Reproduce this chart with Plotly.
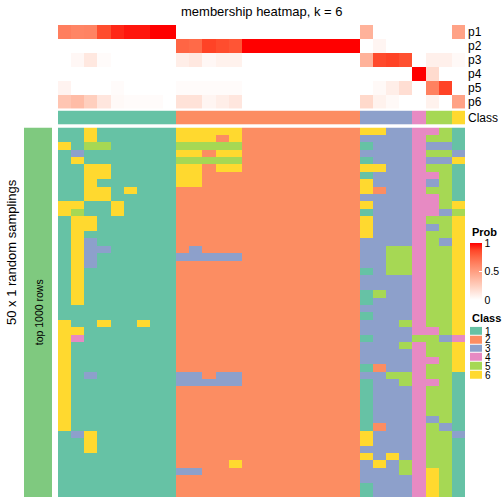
import plotly.graph_objects as go

# ---------------- data ----------------
class_names = ["1", "2", "3", "4", "5", "6"]
class_colors = ["#66C2A5", "#FC8D62", "#8DA0CB", "#E78AC3", "#A6D854", "#FFD92F"]
prob_labels = ["p1", "p2", "p3", "p4", "p5", "p6"]

p1 = [0.65, 0.62, 0.63, 0.85, 0.93, 0.96, 0.96, 1.0, 1.0] + [0] * 14 + [0.40, 0, 0, 0, 0, 0, 0, 0.48]
p2 = [0] * 9 + [0.76, 0.74, 0.88, 0.85, 0.82] + [1.0] * 9 + [0, 0.05, 0, 0, 0, 0, 0, 0]
p3 = [0, 0.04, 0.12, 0.02, 0, 0, 0, 0, 0] + [0.09, 0.12, 0.04, 0.07, 0.07] + [0] * 9 + [0.40, 0.86, 0.88, 0.84, 0, 0.08, 0.08, 0.03]
p4 = [0] * 23 + [0, 0, 0, 0, 1.0, 0.19, 0, 0]
p5 = [0.06, 0, 0, 0, 0.02, 0, 0, 0, 0] + [0.02] * 5 + [0] * 9 + [0, 0.03, 0.09, 0.17, 0, 0.64, 0.88, 0]
p6 = [0.30, 0.35, 0.25, 0.13, 0.03, 0.02, 0.02, 0.02, 0] + [0.15, 0.15, 0.05, 0.09, 0.13] + [0] * 9 + [0.20, 0.07, 0.03, 0, 0, 0.07, 0, 0.48]

column_class = [1] * 9 + [2] * 14 + [3] * 4 + [4] + [5] * 2 + [6]

samplings = [
    "116111111" + "66666222222222" + "66334451",
    "116111111" + "66626222222222" + "33334551",
    "615511111" + "55555222222222" + "13334331",
    "131111111" + "66266222222222" + "33334553",
    "161111111" + "55555222222222" + "13334336",
    "116611111" + "66266222222222" + "66334551",
    "116611111" + "66222222222222" + "13334451",
    "116111111" + "66222222222222" + "63334351",
    "116616111" + "22222222222222" + "62334551",
    "116611111" + "22222222222222" + "33334451",
    "661161111" + "22222222222222" + "63334456",
    "651161111" + "22222222222222" + "13334435",
    "166111111" + "22222222222222" + "63334556",
    "166111111" + "22222222222222" + "63334356",
    "161111111" + "22222222222222" + "63334556",
    "163111111" + "22222222222222" + "33334536",
    "163311111" + "23222222222222" + "33554556",
    "163111111" + "33333222222222" + "33554556",
    "163111111" + "22222222222222" + "33554556",
    "161111111" + "22222222222222" + "13554556",
    "161111111" + "22222222222222" + "33334556",
    "161111111" + "22222222222222" + "33334556",
    "161111111" + "22222222222222" + "15334556",
    "161111111" + "22222222222222" + "13334556",
    "111111111" + "22222222222222" + "33334556",
    "111111111" + "22222222222222" + "13334556",
    "611611611" + "22222222222222" + "33354556",
    "661111111" + "22222222222222" + "33334456",
    "641111111" + "22222222222222" + "13335534",
    "611111111" + "22222222222222" + "33354556",
    "611111111" + "22222222222222" + "33334556",
    "611111111" + "22222222222222" + "33334456",
    "611111111" + "22222222222222" + "12334556",
    "613111111" + "33233222222222" + "33554551",
    "611111111" + "33333222222222" + "13354451",
    "611111111" + "22222222222222" + "13334551",
    "611111111" + "22222222222222" + "13334551",
    "611111111" + "22222222222222" + "13334551",
    "611111111" + "22222222222222" + "13334551",
    "611111111" + "22222222222222" + "13334351",
    "611111111" + "22222222222222" + "12334531",
    "136111111" + "22222222222222" + "63334553",
    "116111111" + "22222222222222" + "63334551",
    "116111111" + "22222222222222" + "33334551",
    "111111111" + "22222222222222" + "63634551",
    "111111111" + "22226222222222" + "36354551",
    "111111111" + "33222222222222" + "33354651",
    "111111111" + "22222222222222" + "33334651",
    "111111111" + "22222222222222" + "13334651",
    "111111111" + "22222222222222" + "13334651",
]

# ---------------- helpers ----------------
W = H = 504
FONT = "Liberation Sans, Arial, sans-serif"


def px_x(v):
    return v / W


def px_y(v):
    return 1 - v / H


prob_scale = [
    [0.0, "#FFFFFF"], [0.125, "#FFE7DF"], [0.25, "#FFCFBE"], [0.375, "#FFB7A0"],
    [0.5, "#FF9E81"], [0.625, "#FF8464"], [0.75, "#FF6846"], [0.875, "#FF4628"],
    [1.0, "#FF0000"],
]

n = len(class_colors)
class_scale = []
for i, c in enumerate(class_colors):
    class_scale.append([i / n, c])
    class_scale.append([(i + 1) / n, c])

ncol = len(column_class)
cols = list(range(ncol))
prob_z = [p1, p2, p3, p4, p5, p6]
samp_z = [[int(ch) for ch in row] for row in samplings]

fig = go.Figure()

# probability heatmap
fig.add_trace(go.Heatmap(
    z=prob_z, x=cols, y=list(range(6)), xaxis="x", yaxis="y",
    colorscale=prob_scale, zmin=0, zmax=1, hoverinfo="skip",
    colorbar=dict(
        x=px_x(470), xanchor="left", xpad=0,
        y=px_y(243), yanchor="top", ypad=0,
        len=57, lenmode="pixels", thickness=12, outlinewidth=0,
        tickvals=[0, 0.5, 1], ticktext=["0", "0.5", "1"],
        ticks="inside", ticklen=3, tickcolor="white",
        tickfont=dict(size=10.5, family=FONT, color="#000000"),
    ),
))

# class row
fig.add_trace(go.Heatmap(
    z=[column_class], x=cols, y=[0], xaxis="x", yaxis="y2",
    colorscale=class_scale, zmin=0.5, zmax=n + 0.5, showscale=False, hoverinfo="skip",
))

# sampling heatmap
fig.add_trace(go.Heatmap(
    z=samp_z, x=cols, y=list(range(len(samplings))), xaxis="x", yaxis="y3",
    colorscale=class_scale, zmin=0.5, zmax=n + 0.5, showscale=False, hoverinfo="skip",
))

# class legend
fig.add_trace(go.Heatmap(
    z=[[i + 1] for i in range(n)], x=[0], y=list(range(n)), xaxis="x2", yaxis="y4",
    colorscale=class_scale, zmin=0.5, zmax=n + 0.5, showscale=False, hoverinfo="skip",
    ygap=1,
))

# left row-group bar
fig.add_trace(go.Heatmap(
    z=[[1]], x=[0], y=[0], xaxis="x3", yaxis="y5",
    colorscale=[[0, "#7FC97F"], [1, "#7FC97F"]], showscale=False, hoverinfo="skip",
))

hidden = dict(showgrid=False, zeroline=False, showline=False, showticklabels=False, ticks="")

fig.update_layout(
    width=W, height=H, margin=dict(l=0, r=0, t=0, b=0),
    paper_bgcolor="white", plot_bgcolor="white",
    font=dict(family=FONT, color="#000000"),
    xaxis=dict(domain=[px_x(58), px_x(465)], range=[-0.5, ncol - 0.5], anchor="y3", **hidden),
    yaxis=dict(domain=[px_y(108), px_y(24)], range=[5.5, -0.5], anchor="x", side="right",
               showgrid=False, zeroline=False, showline=False, ticks="",
               tickvals=list(range(6)), ticktext=prob_labels, ticklabelstandoff=2,
               tickfont=dict(size=12, family=FONT)),
    yaxis2=dict(domain=[px_y(124), px_y(110)], range=[0.5, -0.5], anchor="x", side="right",
                showgrid=False, zeroline=False, showline=False, ticks="",
                tickvals=[0], ticktext=["Class"], ticklabelstandoff=2,
                tickfont=dict(size=12, family=FONT)),
    yaxis3=dict(domain=[px_y(498), px_y(127)], range=[len(samplings) - 0.5, -0.5], anchor="x", **hidden),
    xaxis2=dict(domain=[px_x(470), px_x(482)], range=[-0.5, 0.5], anchor="y4", **hidden),
    yaxis4=dict(domain=[px_y(380), px_y(327)], range=[n - 0.5, -0.5], anchor="x2", side="right",
                showgrid=False, zeroline=False, showline=False, ticks="",
                tickvals=list(range(n)), ticktext=class_names, ticklabelstandoff=2,
                tickfont=dict(size=10, family=FONT)),
    xaxis3=dict(domain=[px_x(24), px_x(52)], range=[-0.5, 0.5], anchor="y5", **hidden),
    yaxis5=dict(domain=[px_y(498), px_y(127)], range=[0.5, -0.5], anchor="x3", **hidden),
    annotations=[
        dict(text="membership heatmap, k = 6", x=px_x(262), y=px_y(11), xref="paper", yref="paper",
             showarrow=False, font=dict(size=13, family=FONT), xanchor="center", yanchor="middle"),
        dict(text="top 1000 rows", x=px_x(38.5), y=px_y(313), xref="paper", yref="paper",
             showarrow=False, textangle=-90, font=dict(size=10.5, family=FONT),
             xanchor="center", yanchor="middle"),
        dict(text="50 x 1 random samplings", x=px_x(11), y=px_y(252), xref="paper", yref="paper",
             showarrow=False, textangle=-90, font=dict(size=13, family=FONT),
             xanchor="center", yanchor="middle"),
        dict(text="<b>Prob</b>", x=px_x(470), y=px_y(232), xref="paper", yref="paper",
             showarrow=False, font=dict(size=11, family=FONT), xanchor="left", yanchor="middle"),
        dict(text="<b>Class</b>", x=px_x(470), y=px_y(318), xref="paper", yref="paper",
             showarrow=False, font=dict(size=11, family=FONT), xanchor="left", yanchor="middle"),
    ],
)

fig.write_html(
    "out.html",
    config={"displayModeBar": False},
    post_script="document.body.style.margin='0';document.body.style.padding='0';"
                "document.documentElement.style.overflow='hidden';",
)
